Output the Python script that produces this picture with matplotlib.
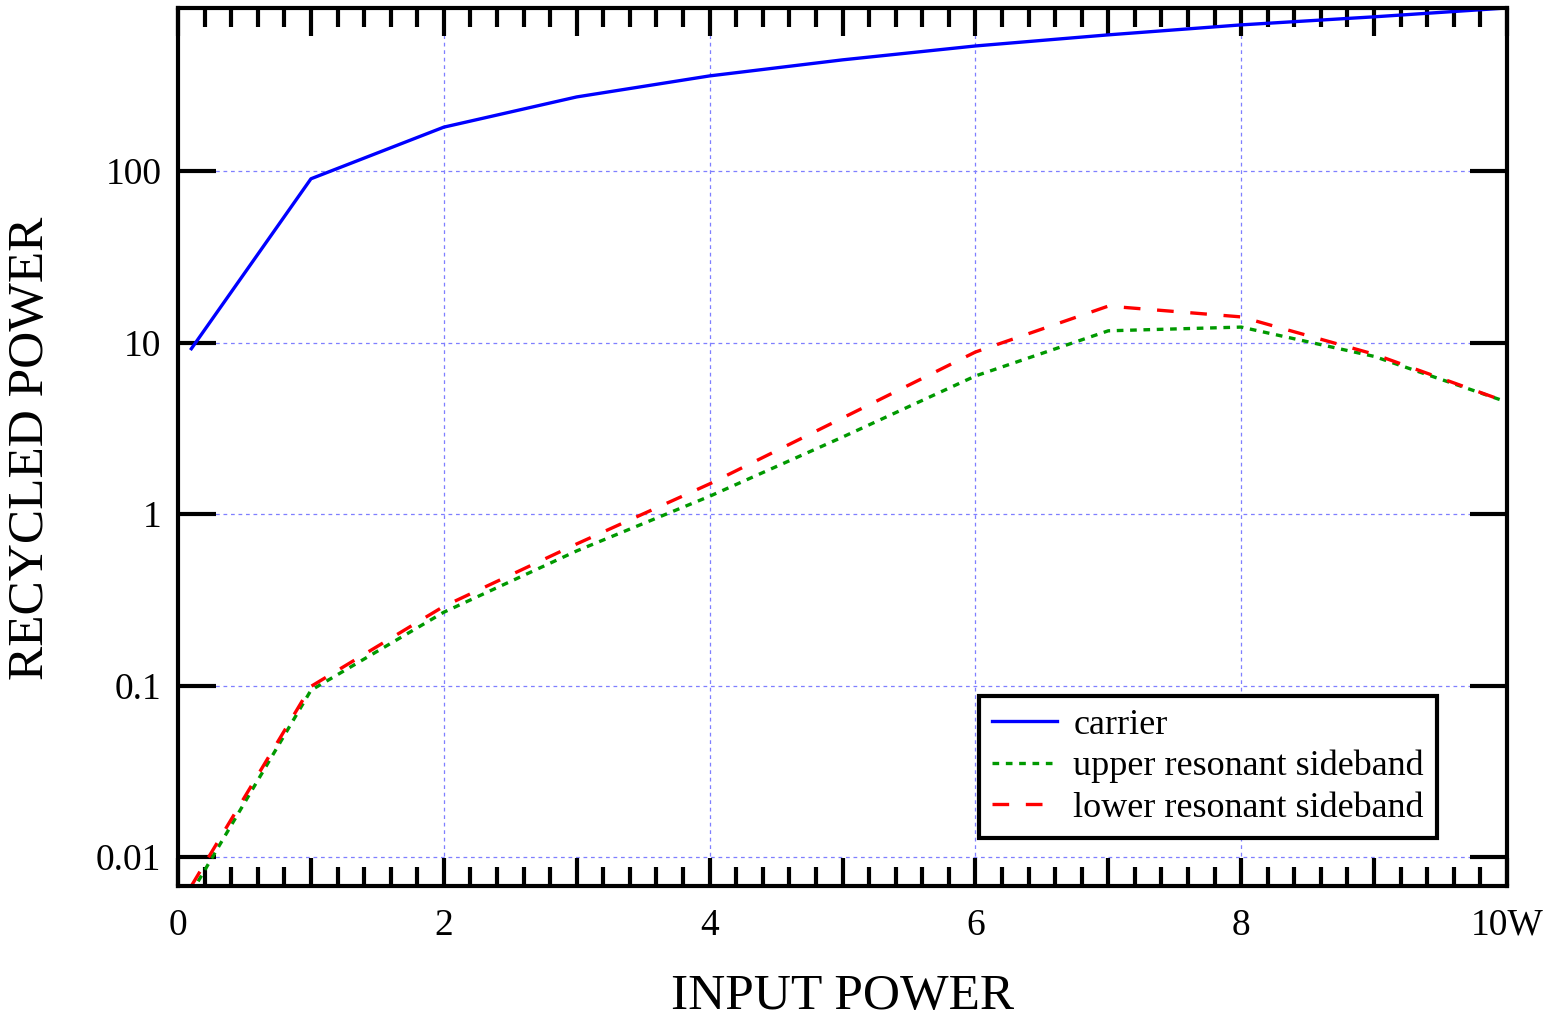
import matplotlib.pyplot as plt
from matplotlib.ticker import MultipleLocator, FixedLocator, FuncFormatter

plt.rcParams['font.family'] = ['Liberation Serif', 'DejaVu Serif']

# input power (W)
input_power = [0.1, 1, 2, 3, 4, 5, 6, 7, 8, 9, 10]

# recycled power
carrier = [9.2, 90, 180, 270, 358, 444, 535, 621, 710, 791, 891]
upper_sb = [0.0062, 0.094, 0.268, 0.61, 1.27, 2.81, 6.38, 11.7, 12.3, 8.3, 4.5]
lower_sb = [0.0068, 0.099, 0.29, 0.67, 1.5, 3.63, 8.8, 16.3, 14.1, 8.55, 4.5]

y_ticks = [0.01, 0.1, 1, 10, 100]
y_labels = ['0.01', '0.1', '1', '10', '100']

fig = plt.figure(figsize=(15.51, 10.18), dpi=100)
ax = fig.add_axes([0.1148, 0.1297, 0.9716 - 0.1148, 0.9921 - 0.1297])

# grid (only at even x and decades)
for xv in [2, 4, 6, 8]:
    ax.axvline(xv, color='#7f7fff', lw=0.9, ls=(0, (3, 3)), zorder=0)
for yv in y_ticks:
    ax.axhline(yv, color='#7f7fff', lw=0.9, ls=(0, (3, 3)), zorder=0)

ax.plot(input_power, carrier, color='#0000ff', lw=2.4, label='carrier')
ax.plot(input_power, upper_sb, color='#009900', lw=2.4, ls=(0, (2, 2)),
        label='upper resonant sideband')
ax.plot(input_power, lower_sb, color='#ff0000', lw=2.4, ls=(0, (5, 5)),
        label='lower resonant sideband')

ax.set_yscale('log')
ax.set_xlim(0, 10)
ax.set_ylim(0.0068, 890)

ax.xaxis.set_major_locator(MultipleLocator(1))
ax.xaxis.set_minor_locator(MultipleLocator(0.2))

def xfmt(v, pos):
    i = int(round(v))
    if i % 2:
        return ''
    return '10W' if i == 10 else str(i)

ax.xaxis.set_major_formatter(FuncFormatter(xfmt))
ax.yaxis.set_major_locator(FixedLocator(y_ticks))
ax.yaxis.set_minor_locator(FixedLocator([]))
ax.set_yticks(y_ticks)
ax.set_yticklabels(y_labels)

ax.tick_params(axis='x', which='major', direction='in', length=20, width=3,
               top=True, labelsize=27, pad=16)
ax.tick_params(axis='x', which='minor', direction='in', length=14, width=3,
               top=True)
ax.tick_params(axis='y', which='major', direction='in', length=27, width=3,
               right=True, labelsize=27, pad=12)
for s in ax.spines.values():
    s.set_linewidth(3)

ax.set_xlabel('INPUT POWER', fontsize=37, labelpad=22)
ax.set_ylabel('RECYCLED POWER', fontsize=37, va='center')
ax.yaxis.set_label_coords(-0.111, 0.498)

leg = ax.legend(loc='lower right', bbox_to_anchor=(0.947, 0.055), fontsize=26,
                frameon=True, fancybox=False, handlelength=1.8,
                handletextpad=0.45, labelspacing=0.23, borderpad=0.35,
                borderaxespad=0)
leg.get_frame().set_edgecolor('black')
leg.get_frame().set_linewidth(3)
leg.get_frame().set_alpha(1)

fig.savefig('out.png', dpi=100)
